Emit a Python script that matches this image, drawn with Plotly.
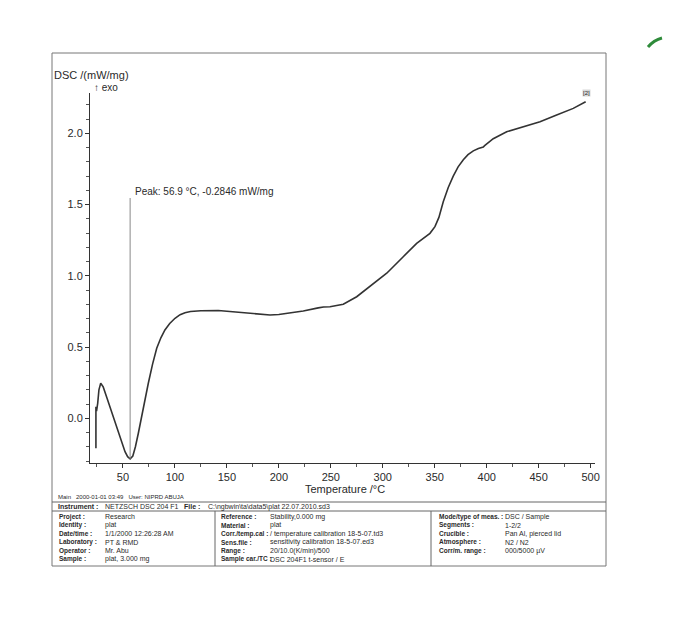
import plotly.graph_objects as go

# ---- data ----
temperature = [24.0, 24.0, 24.1, 24.6, 25.7, 26.9, 28.6, 31.0, 34.3, 38.0, 41.7, 45.5, 48.8, 52.0,
               54.5, 56.9, 59.5, 62.0, 64.8, 68.0, 71.0, 74.4, 78.5, 82.5, 86.5, 90.4, 95.0,
               100.1, 105.0, 109.7, 115.0, 125.0, 141.7, 155.0, 167.4, 180.0, 191.5, 200.0,
               210.7, 223.5, 237.9, 243.0, 249.2, 262.0, 274.9, 287.7, 303.8, 319.7, 332.6,
               345.4, 350.2, 354.0, 358.2, 363.0, 367.8, 372.5, 377.5, 382.0, 387.1, 392.0,
               396.7, 398.0, 406.3, 419.2, 435.2, 451.3, 467.3, 483.3, 495.2]
dsc = [-0.21, 0.08, -0.02, 0.05, 0.105, 0.20, 0.246, 0.22, 0.15, 0.07, -0.01, -0.10, -0.175, -0.235,
       -0.27, -0.2846, -0.265, -0.20, -0.105, 0.02, 0.13, 0.246, 0.38, 0.491, 0.565, 0.62, 0.665,
       0.702, 0.727, 0.741, 0.749, 0.755, 0.756, 0.748, 0.737, 0.730, 0.725, 0.728,
       0.737, 0.753, 0.775, 0.781, 0.783, 0.800, 0.853, 0.924, 1.018, 1.134, 1.228,
       1.298, 1.345, 1.41, 1.52, 1.62, 1.70, 1.765, 1.815, 1.85, 1.877, 1.893,
       1.903, 1.913, 1.962, 2.011, 2.046, 2.081, 2.128, 2.175, 2.222]
x_ticks = [50, 100, 150, 200, 250, 300, 350, 400, 450, 500]
y_ticks = [0.0, 0.5, 1.0, 1.5, 2.0]
peak_temp = 56.9
peak_val = -0.2846

table_col1 = [("Project :", "Research"), ("Identity :", "plat"), ("Date/time :", "1/1/2000 12:26:28 AM"),
              ("Laboratory :", "PT & RMD"), ("Operator :", "Mr. Abu"), ("Sample :", "plat, 3.000 mg")]
table_col2 = [("Reference :", "Stability,0.000 mg"), ("Material :", "plat"),
              ("Corr./temp.cal :", "/ temperature calibration 18-5-07.td3"),
              ("Sens.file :", "sensitivity calibration 18-5-07.ed3"),
              ("Range :", "20/10.0(K/min)/500"), ("Sample car./TC :", "DSC 204F1 t-sensor / E")]
table_col3 = [("Mode/type of meas. :", "DSC / Sample"), ("Segments :", "1-2/2"),
              ("Crucible :", "Pan Al, pierced lid"), ("Atmosphere :", "N2 / N2"),
              ("Corr/m. range :", "000/5000 µV")]

# ---- layout geometry ----
W, H = 680, 631
L, R, T, B = 90, 595, 93, 463
FONT = "Liberation Sans, Arial, sans-serif"
NARROW = "Liberation Sans Narrow, Arial Narrow, Liberation Sans, sans-serif"
INK = "#2a2a2a"


def xp(px):
    return (px - L) / (R - L)


def yp(py):
    return (B - py) / (B - T)


fig = go.Figure()
fig.add_trace(go.Scatter(x=temperature, y=dsc, mode="lines",
                         line=dict(color="#333333", width=1.6), hoverinfo="skip"))

fig.update_layout(
    width=W, height=H,
    margin=dict(l=L, r=W - R, t=T, b=H - B),
    paper_bgcolor="white", plot_bgcolor="white",
    showlegend=False,
    font=dict(family=FONT, size=11, color=INK),
)
fig.update_xaxes(range=[18.3, 504.2], tickvals=x_ticks, ticktext=[str(v) for v in x_ticks],
                 showgrid=False, zeroline=False, showline=True, linecolor="#333", linewidth=1,
                 ticks="outside", ticklen=4, tickcolor="#333",
                 minor=dict(dtick=25, tick0=0, ticks="outside", ticklen=3, tickcolor="#555"),
                 tickfont=dict(size=11, color=INK))
fig.update_yaxes(range=[-0.314, 2.283], tickvals=y_ticks, ticktext=["%.1f" % v for v in y_ticks],
                 showgrid=False, zeroline=False, showline=True, linecolor="#333", linewidth=1,
                 ticks="outside", ticklen=4, tickcolor="#333",
                 minor=dict(dtick=0.1, tick0=0, ticks="outside", ticklen=3, tickcolor="#555"),
                 tickfont=dict(size=11, color=INK))

shapes = []
anns = []

# peak marker line
shapes.append(dict(type="line", xref="x", yref="paper", x0=peak_temp, x1=peak_temp,
                   y0=(peak_val + 0.314) / 2.597, y1=yp(198), line=dict(color="#888", width=1)))
anns.append(dict(xref="paper", yref="paper", x=xp(133), y=yp(191), xanchor="left", yanchor="middle",
                 text="Peak: %.1f °C, %.4f mW/mg" % (peak_temp, peak_val), showarrow=False,
                 font=dict(size=10, color=INK)))

# axis labels
anns.append(dict(xref="paper", yref="paper", x=xp(52), y=yp(75), xanchor="left", yanchor="middle",
                 text="DSC /(mW/mg)", showarrow=False, font=dict(size=11, color=INK)))
anns.append(dict(xref="paper", yref="paper", x=xp(92), y=yp(88), xanchor="left", yanchor="middle",
                 text="↑ exo", showarrow=False, font=dict(size=10, color=INK)))
anns.append(dict(xref="paper", yref="paper", x=xp(345), y=yp(489), xanchor="center", yanchor="middle",
                 text="Temperature /°C", showarrow=False, font=dict(size=11, color=INK)))
anns.append(dict(xref="paper", yref="paper", x=xp(586), y=yp(93), xanchor="center", yanchor="middle",
                 text="[2]", showarrow=False, font=dict(size=6, color=INK),
                 bgcolor="#d8d8d8", borderpad=0))

# outer frame
FL, FR, FT, FB = 52, 606, 53, 566
shapes.append(dict(type="rect", xref="paper", yref="paper", x0=xp(FL), x1=xp(FR), y0=yp(FB), y1=yp(FT),
                   line=dict(color="#777", width=1)))
# table lines
for yy in (502, 511):
    shapes.append(dict(type="line", xref="paper", yref="paper", x0=xp(FL), x1=xp(FR), y0=yp(yy), y1=yp(yy),
                       line=dict(color="#666", width=1)))
for xx in (215, 431):
    shapes.append(dict(type="line", xref="paper", yref="paper", x0=xp(xx), x1=xp(xx), y0=yp(511), y1=yp(FB),
                       line=dict(color="#666", width=1)))

SMALL = 7


def txt(px, py, s, bold=False, size=SMALL):
    anns.append(dict(xref="paper", yref="paper", x=xp(px), y=yp(py), xanchor="left", yanchor="middle",
                     text=("<b>%s</b>" % s) if bold else s, showarrow=False,
                     font=dict(size=size, color=INK, family=NARROW if bold else FONT)))


txt(56, 497, "Main   2000-01-01 03:49   User: NIPRD ABUJA", size=6)
txt(56, 506.5, "Instrument :", bold=True)
txt(103, 506.5, "NETZSCH DSC 204 F1")
txt(182, 506.5, "File :", bold=True)
txt(206, 506.5, "C:\\ngbwin\\ta\\data5\\plat 22.07.2010.sd3")

row_y = [516.5, 525, 533.5, 542, 550.5, 559]
for (lab, val), yy in zip(table_col1, row_y):
    txt(57, yy, lab, bold=True, size=6.5)
    txt(103, yy, val)
for (lab, val), yy in zip(table_col2, row_y):
    txt(219, yy, lab, bold=True, size=6.5)
    txt(268, yy, val)
for (lab, val), yy in zip(table_col3, row_y):
    txt(437, yy, lab, bold=True, size=6.5)
    txt(503, yy, val)

# green pen mark (scan artefact)
shapes.append(dict(type="path", xref="paper", yref="paper",
                   path="M %f %f Q %f %f %f %f" % (xp(648), yp(47), xp(654), yp(40), xp(662), yp(38)),
                   line=dict(color="#2e8b3a", width=3)))

fig.update_layout(shapes=shapes, annotations=anns)
fig.write_html("out.html")
